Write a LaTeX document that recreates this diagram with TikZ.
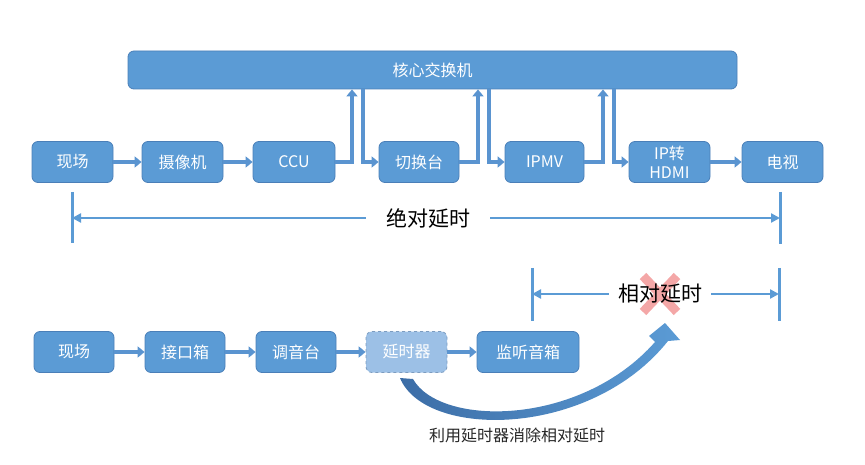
\documentclass[tikz,border=0pt]{standalone}
\usepackage{fontspec}
\setmainfont{Noto Sans CJK SC}
\usetikzlibrary{arrows.meta}
\definecolor{boxblue}{HTML}{5B9BD5}
\definecolor{boxedge}{HTML}{4A7FB8}
\definecolor{connblue}{HTML}{5A94D0}
\definecolor{lightbox}{HTML}{9CC0E6}
\definecolor{dashedge}{HTML}{7C9CC0}
\definecolor{dkblue}{HTML}{3C6DA6}
\definecolor{xred}{HTML}{F08A8A}
\tikzset{
  box/.style={draw=boxedge, fill=boxblue, rounded corners=6pt, line width=0.8pt,
    minimum width=80pt, minimum height=41pt, inner sep=0pt, text=white,
    font=\fontsize{16}{19}\selectfont, align=center},
  dbox/.style={box, fill=lightbox, draw=dashedge, dashed},
  conn/.style={line width=4pt, draw=connblue, -{Triangle[length=7pt,width=11pt]}},
  bar/.style={line width=3pt, draw=boxblue},
  harrow/.style={line width=2.6pt, draw=boxblue, -{Triangle[length=9pt,width=9pt]}},
  bigtxt/.style={font=\fontsize{21}{24}\selectfont, text=black, inner ysep=0pt},
  captxt/.style={font=\fontsize{16}{19}\selectfont, text=black!85}
}
\begin{document}
\begin{tikzpicture}[x=1pt,y=-1pt]
\useasboundingbox (0,0) rectangle (865,465);
% core switch
\node[box, minimum width=609pt, minimum height=38pt] (core) at (432.5,70) {核心交换机};
% top row
\node[box, minimum width=81pt] (f1) at (72.5,162) {现场};
\node[box, minimum width=81pt] (cam) at (182.5,162) {摄像机};
\node[box, minimum width=82pt] (ccu) at (294,162) {CCU};
\node[box] (sw) at (419,162) {切换台};
\node[box, minimum width=79pt] (ipmv) at (544.5,162) {IPMV};
\node[box, minimum width=81pt] (iph) at (669.5,162) {IP转\\HDMI};
\node[box, minimum width=81pt] (tv) at (782.5,162) {电视};
\draw[conn] (f1) -- (cam);
\draw[conn] (cam) -- (ccu);
\draw[conn] (iph) -- (tv);
% links via core switch
\coordinate (u1) at (352,0); \coordinate (d1) at (363,0);
\coordinate (u2) at (478,0); \coordinate (d2) at (489,0);
\coordinate (u3) at (603,0); \coordinate (d3) at (614,0);
\draw[conn] (ccu.east) -| (core.south -| u1);
\draw[conn] (core.south -| d1) |- (sw.west);
\draw[conn] (sw.east) -| (core.south -| u2);
\draw[conn] (core.south -| d2) |- (ipmv.west);
\draw[conn] (ipmv.east) -| (core.south -| u3);
\draw[conn] (core.south -| d3) |- (iph.west);
% absolute delay
\coordinate (aLt) at (72,192); \coordinate (aLb) at (72,243);
\coordinate (aRt) at (780,192); \coordinate (aRb) at (780,244);
\coordinate (aL) at (72,218); \coordinate (aR) at (780,218);
\draw[bar] (aLt) -- (aLb);
\draw[bar] (aRt) -- (aRb);
\node[bigtxt, inner xsep=20pt] (abs) at (428,218) {绝对延时};
\draw[harrow] (abs.west) -- (aL);
\draw[harrow] (abs.east) -- (aR);
% relative delay
\coordinate (rLt) at (532,268); \coordinate (rLb) at (532,321);
\coordinate (rRt) at (779,268); \coordinate (rRb) at (779,321);
\coordinate (rL) at (532,294); \coordinate (rR) at (779,294);
\draw[bar] (rLt) -- (rLb);
\draw[bar] (rRt) -- (rRb);
\coordinate (xc) at (660,294);
\draw[xred, opacity=0.75, line width=9pt] (643,276) -- (677,312) (677,276) -- (643,312);
\node[bigtxt, inner xsep=9pt] (rel) at (660,294) {相对延时};
\draw[harrow] (rel.west) -- (rL);
\draw[harrow] (rel.east) -- (rR);
% bottom row
\node[box] (f2) at (74,352) {现场};
\node[box] (ibox) at (185,352) {接口箱};
\node[box] (mix) at (296,352) {调音台};
\node[dbox, minimum width=81pt] (dly) at (406.5,352) {延时器};
\node[box, minimum width=102pt] (spk) at (528,352) {监听音箱};
\draw[conn] (f2) -- (ibox);
\draw[conn] (ibox) -- (mix);
\draw[conn] (mix) -- (dly);
\draw[conn] (dly) -- (spk);
% curved arrow
\shade[left color=dkblue, right color=boxblue]
  (413,379) .. controls (440,427) and (580,427) .. (655,342)
  -- (649,336) -- (665,323) -- (680,340) -- (668,341)
  .. controls (590,439) and (425,439) .. (400,378) -- cycle;
\node[captxt] (cap) at (517,435) {利用延时器消除相对延时};
\end{tikzpicture}
\end{document}
